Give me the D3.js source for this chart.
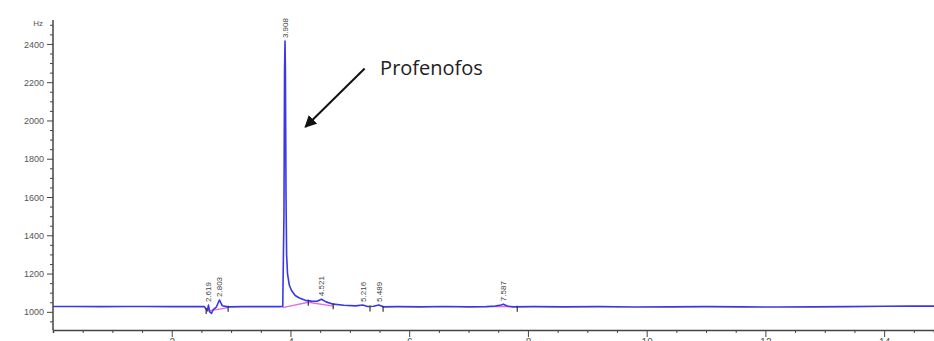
<!DOCTYPE html>
<html>
<head>
<meta charset="utf-8">
<script src="https://d3js.org/d3.v7.min.js"></script>
<style>
  body { margin: 0; background: #fff; }
  svg { display: block; }
</style>
</head>
<body>
<div id="chart"></div>
<script>
// retention time (min) and detector signal (Hz)
var times = [0, 0.4, 0.8, 1.2, 1.6, 2.0, 2.3, 2.55, 2.6, 2.619, 2.64, 2.67, 2.7, 2.75, 2.803, 2.85, 2.95, 3.2, 3.5, 3.8, 3.87,
  3.89, 3.9, 3.908, 3.915, 3.925, 3.935, 3.95, 3.98, 4.02, 4.08, 4.15, 4.25, 4.35, 4.45, 4.521, 4.6, 4.72, 4.9, 5.1, 5.216, 5.3,
  5.4, 5.489, 5.56, 5.8, 6.2, 6.6, 7.0, 7.3, 7.45, 7.55, 7.587, 7.65, 7.75, 8.1, 8.6, 9.2, 9.8, 10.4, 11.0, 11.6, 12.2,
  12.8, 13.4, 14.0, 14.5, 14.84];
var signal = [1028, 1028, 1027, 1028, 1028, 1027, 1028, 1027, 1006, 1035, 1000, 992, 1012, 1024, 1062, 1032, 1026, 1027, 1027, 1027, 1028,
  1500, 2250, 2415, 2260, 1600, 1300, 1200, 1140, 1110, 1085, 1072, 1060, 1056, 1055, 1066, 1052, 1040, 1034, 1031, 1036, 1028,
  1029, 1036, 1026, 1027, 1026, 1028, 1026, 1027, 1030, 1036, 1040, 1030, 1026, 1027, 1026, 1027, 1025, 1026, 1027, 1026, 1025,
  1026, 1027, 1029, 1030, 1030];

// integration baseline segments (pink)
var baseTimes = [[2.6, 2.95], [3.87, 4.3, 4.72], [7.45, 7.75]];
var baseValues = [[1004, 1022], [1022, 1050, 1030], [1027, 1027]];

// integration end markers
var markerTimes = [2.58, 2.95, 4.3, 4.72, 5.34, 5.56, 7.82];

// peak labels
var peakTimes = [2.619, 2.803, 3.908, 4.521, 5.216, 5.489, 7.587];
var peakLabels = ["2.619", "2.803", "3.908", "4.521", "5.216", "5.489", "7.587"];

var yTicks = [1000, 1200, 1400, 1600, 1800, 2000, 2200, 2400];
var xTicks = [2, 4, 6, 8, 10, 12, 14];

// annotation: arrow from label toward the main peak
var noteText = "Profenofos";
var noteAt = {t: 5.51, v: 2238};
var arrowFrom = {t: 5.25, v: 2272};
var arrowTo = {t: 4.25, v: 1966};

var W = 934, H = 341;
var x = d3.scaleLinear().domain([0, 14.84]).range([53, 934]);
var y = d3.scaleLinear().domain([905, 2525]).range([330, 20]);

var svg = d3.select("#chart").append("svg").attr("width", W).attr("height", H);

var axisColor = "#444";
var tickFont = "Liberation Sans, Arial, sans-serif";

// y axis
var yAxis = svg.append("g").attr("transform", "translate(53,0)");
yAxis.call(d3.axisLeft(y).tickValues(d3.range(950, 2525, 50)).tickSize(3).tickFormat(""));
yAxis.selectAll(".tick").filter(function(d) { return yTicks.indexOf(d) >= 0; })
  .select("line").attr("x2", -6);
yAxis.selectAll(".tick").filter(function(d) { return yTicks.indexOf(d) >= 0; })
  .append("text").attr("x", -9).attr("dy", "0.35em").attr("text-anchor", "end")
  .attr("fill", "#555").style("font", "9px " + tickFont).text(function(d) { return d; });
yAxis.selectAll(".tick").filter(function(d) { return d === 2500; })
  .append("text").attr("x", -10).attr("dy", "0.1em").attr("text-anchor", "end")
  .attr("fill", "#555").style("font", "8px " + tickFont).text("Hz");
yAxis.select(".domain").attr("d", "M0," + y(905) + "V" + y(2525));

// x axis
var xAxis = svg.append("g").attr("transform", "translate(0," + y(905) + ")");
xAxis.call(d3.axisBottom(x).tickValues(d3.range(0.5, 14.84, 0.5)).tickSize(3).tickFormat(""));
xAxis.selectAll(".tick").filter(function(d) { return xTicks.indexOf(d) >= 0; })
  .select("line").attr("y2", 7);
xAxis.selectAll(".tick").filter(function(d) { return xTicks.indexOf(d) >= 0; })
  .append("text").attr("y", 7).attr("dy", "0.9em").attr("text-anchor", "middle")
  .attr("fill", "#555").style("font", "10px " + tickFont).text(function(d) { return d; });

svg.selectAll(".domain").attr("stroke", axisColor).attr("stroke-width", 1.5);
svg.selectAll(".tick line").attr("stroke", axisColor).attr("stroke-width", 1);

// pink integration baselines
var lineGen = d3.line().x(function(d) { return x(d[0]); }).y(function(d) { return y(d[1]); });
baseTimes.forEach(function(ts, i) {
  var pts = ts.map(function(t, j) { return [t, baseValues[i][j]]; });
  svg.append("path").attr("d", lineGen(pts)).attr("fill", "none")
    .attr("stroke", "#e86ae0").attr("stroke-width", 1.3);
});

// signal trace
var trace = times.map(function(t, i) { return [t, signal[i]]; });
svg.append("path").attr("d", lineGen(trace)).attr("fill", "none")
  .attr("stroke", "#3838e8").attr("stroke-width", 1.6).attr("stroke-linejoin", "round");

// integration markers
var interp = function(t) {
  var i = d3.bisectLeft(times, t);
  if (i <= 0) return signal[0];
  var t0 = times[i - 1], t1 = times[i];
  return signal[i - 1] + (signal[i] - signal[i - 1]) * (t - t0) / (t1 - t0);
};
svg.selectAll(".mark").data(markerTimes).enter().append("line")
  .attr("x1", function(d) { return x(d); }).attr("x2", function(d) { return x(d); })
  .attr("y1", function(d) { return y(interp(d)) - 1; })
  .attr("y2", function(d) { return y(interp(d)) + 5; })
  .attr("stroke", "#333").attr("stroke-width", 1.2);

// peak labels
svg.selectAll(".plab").data(peakTimes).enter().append("text")
  .attr("transform", function(d) {
    var py = y(signal[times.indexOf(d)]) - 3;
    return "translate(" + (x(d) + 3) + "," + py + ") rotate(-90)";
  })
  .attr("fill", "#444").style("font", "8px " + tickFont)
  .text(function(d, i) { return peakLabels[i]; });

// annotation
svg.append("defs").append("marker").attr("id", "head")
  .attr("viewBox", "0 0 10 10").attr("refX", 9).attr("refY", 5)
  .attr("markerWidth", 6).attr("markerHeight", 6).attr("orient", "auto")
  .append("path").attr("d", "M0,0L10,5L0,10Z").attr("fill", "#111");
svg.append("line")
  .attr("x1", x(arrowFrom.t)).attr("y1", y(arrowFrom.v))
  .attr("x2", x(arrowTo.t)).attr("y2", y(arrowTo.v))
  .attr("stroke", "#111").attr("stroke-width", 2).attr("marker-end", "url(#head)");
svg.append("text").attr("x", x(noteAt.t)).attr("y", y(noteAt.v))
  .attr("fill", "#222").style("font", "20px 'Open Sans', sans-serif").text(noteText);
</script>
</body>
</html>
